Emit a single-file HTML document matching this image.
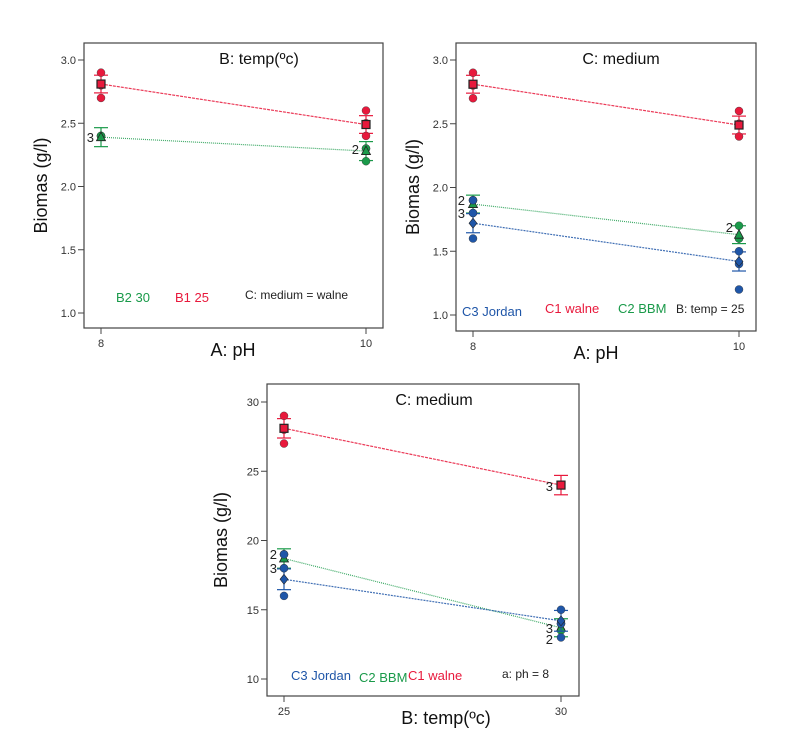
<!DOCTYPE html>
<html><head><meta charset="utf-8"><style>
html,body{margin:0;padding:0;background:#fff;}
svg{display:block;font-family:"Liberation Sans",Arial,sans-serif;}
</style></head><body>
<svg id="fig" width="787" height="744" viewBox="0 0 787 744" xmlns="http://www.w3.org/2000/svg"></svg>
<script>
// ---------- Data ----------
// Chart 1: B temp interaction, medium = walne
const c1XLabels = ["8","10"];
const c1YTicks = [1.0,1.5,2.0,2.5,3.0];
const c1B1Mean = [2.81,2.49];
const c1B1Err = [0.07,0.07];
const c1B1Pts = [[2.9,2.8,2.7],[2.6,2.5,2.4]];
const c1B2Mean = [2.39,2.28];
const c1B2Err = [0.075,0.075];
const c1B2Pts = [[2.4,2.4,2.4],[2.3,2.2,2.3]];
// Chart 2: medium interaction, temp = 25
const c2XLabels = ["8","10"];
const c2YTicks = [1.0,1.5,2.0,2.5,3.0];
const c2C1Mean = [2.81,2.49];
const c2C1Err = [0.07,0.07];
const c2C1Pts = [[2.9,2.8,2.7],[2.6,2.5,2.4]];
const c2C2Mean = [1.87,1.63];
const c2C2Err = [0.07,0.07];
const c2C2Pts = [[1.9,1.8,1.9],[1.7,1.6,1.6]];
const c2C3Mean = [1.72,1.42];
const c2C3Err = [0.075,0.075];
const c2C3Pts = [[1.9,1.8,1.6],[1.5,1.4,1.2]];
// Chart 3: medium interaction vs temp, ph = 8
const c3XLabels = ["25","30"];
const c3YTicks = [10,15,20,25,30];
const c3C1Mean = [28.1,24.0];
const c3C1Err = [0.7,0.7];
const c3C1Pts = [[29,28,27],[24,24,24]];
const c3C2Mean = [18.7,13.7];
const c3C2Err = [0.7,0.65];
const c3C2Pts = [[19,18,19],[14,13.5,14]];
const c3C3Mean = [17.2,14.2];
const c3C3Err = [0.75,0.75];
const c3C3Pts = [[19,18,16],[15,14,13]];

const RED="#e8193c", GREEN="#1a9a4a", BLUE="#1f56a8";
const NS="http://www.w3.org/2000/svg";
const svg=document.getElementById('fig');
function mk(tag,attrs,parent,text){
  const e=document.createElementNS(NS,tag);
  for(const k in attrs)e.setAttribute(k,attrs[k]);
  if(text!==undefined)e.textContent=text;
  (parent||svg).appendChild(e);return e;
}

function drawChart(cfg){
  const g=mk('g',{});
  
  
  const yS=v=>cfg.yTop+(cfg.yMax-v)*(cfg.yBot-cfg.yTop)/(cfg.yMax-cfg.yMin);
  const xS=i=>cfg.xPos[0]+i*(cfg.xPos[1]-cfg.xPos[0]);
  const box=mk('rect',{x:cfg.bx,y:cfg.by,width:cfg.bw,height:cfg.bh,fill:'none',stroke:'#444','stroke-width':1.2},g);
  
  cfg.yTicks.forEach(t=>{
    const y=yS(t);
    mk('line',{x1:cfg.bx-6,x2:cfg.bx,y1:y,y2:y,stroke:'#444'},g);
    const tl=mk('text',{x:cfg.bx-8,y:y+4,'font-size':11,fill:'#333','text-anchor':'end'},g,cfg.dec?t.toFixed(1):String(t));
    
  });
  cfg.xLabels.forEach((l,i)=>{
    const x=xS(i);
    mk('line',{x1:x,x2:x,y1:cfg.by+cfg.bh,y2:cfg.by+cfg.bh+6,stroke:'#444'},g);
    const tl=mk('text',{x:x,y:cfg.by+cfg.bh+19,'font-size':11,fill:'#333','text-anchor':'middle'},g,l);
    
  });
  const xt=mk('text',{x:cfg.xTitleX,y:cfg.by+cfg.bh+28,'font-size':18,fill:'#111','text-anchor':'middle'},g,cfg.xTitle);
  
  const ycx=cfg.yTitleX, ycy=cfg.by+cfg.bh/2;
  const yt=mk('text',{x:ycx,y:ycy,'font-size':18,fill:'#111','text-anchor':'middle',transform:`rotate(-90 ${ycx} ${ycy})`},g,'Biomas (g/l)');
  
  const tt=mk('text',{x:cfg.titleX,y:cfg.by+21,'font-size':16,fill:'#111','text-anchor':'middle'},g,cfg.title);
  

  cfg.series.forEach(s=>{
    const sg=mk('g',{},g);
    
    
    const ln=mk('line',{x1:xS(0),y1:yS(s.mean[0]),x2:xS(1),y2:yS(s.mean[1]),stroke:s.color,'stroke-width':1.2,'stroke-dasharray':s.dash,opacity:0.85},sg);
    
    s.mean.forEach((m,i)=>{
      const x=xS(i);
      const hi=yS(m+s.err[i]), lo=yS(m-s.err[i]);
      mk('line',{x1:x,x2:x,y1:hi,y2:lo,stroke:s.color,'stroke-width':1.2},sg);
      mk('line',{x1:x-7,x2:x+7,y1:hi,y2:hi,stroke:s.color,'stroke-width':1.2},sg);
      mk('line',{x1:x-7,x2:x+7,y1:lo,y2:lo,stroke:s.color,'stroke-width':1.2},sg);
      s.pts[i].forEach(p=>{
        const c=mk('circle',{cx:x,cy:yS(p),r:4,fill:s.color,stroke:'#333','stroke-width':0.4},sg);
        
      });
      const y=yS(m);let mm;
      if(s.shape==='square')mm=mk('rect',{x:x-4,y:y-4,width:8,height:8,fill:s.color,stroke:'#222','stroke-width':1.2},sg);
      else if(s.shape==='tri')mm=mk('polygon',{points:`${x},${y-5} ${x-4.5},${y+3.5} ${x+4.5},${y+3.5}`,fill:s.color,stroke:'#222','stroke-width':0.8},sg);
      else mm=mk('polygon',{points:`${x},${y-5} ${x+4},${y} ${x},${y+5} ${x-4},${y}`,fill:s.color,stroke:'#222','stroke-width':0.6},sg);
      
    });
  });
  cfg.notes.forEach(n=>{
    const t=mk('text',{x:n[0],y:n[1],'font-size':n[4]||13,fill:n[3],'text-anchor':n[5]||'start'},g,n[2]);
    
  });
}

drawChart({name:'chart-ph-by-temp',bx:84,by:43,bw:299,bh:285,yTop:60,yBot:313,yMin:1,yMax:3,dec:true,
  xPos:[101,366],xLabels:c1XLabels,yTicks:c1YTicks,xTitle:'A: pH',xTitleX:233,yTitleX:47,titleX:259,title:'B: temp(\u00bac)',
  series:[
    {key:'b1-25',mean:c1B1Mean,err:c1B1Err,pts:c1B1Pts,color:RED,shape:'square',dash:'3 1'},
    {key:'b2-30',mean:c1B2Mean,err:c1B2Err,pts:c1B2Pts,color:GREEN,shape:'tri',dash:'1 1'}],
  notes:[[116,302,'B2 30',GREEN,13,'start','legend-b2-30'],[175,302,'B1 25',RED,13,'start','legend-b1-25'],
    [245,299,'C: medium = walne','#222',12,'start','condition-note'],
    [94,142,'3','#222',13,'end','count-label'],[359,154,'2','#222',13,'end','count-label']]});

drawChart({name:'chart-ph-by-medium',bx:456,by:43,bw:300,bh:288,yTop:60,yBot:315,yMin:1,yMax:3,dec:true,
  xPos:[473,739],xLabels:c2XLabels,yTicks:c2YTicks,xTitle:'A: pH',xTitleX:596,yTitleX:419,titleX:621,title:'C: medium',
  series:[
    {key:'c1-walne',mean:c2C1Mean,err:c2C1Err,pts:c2C1Pts,color:RED,shape:'square',dash:'3 1'},
    {key:'c2-bbm',mean:c2C2Mean,err:c2C2Err,pts:c2C2Pts,color:GREEN,shape:'tri',dash:'1 1'},
    {key:'c3-jordan',mean:c2C3Mean,err:c2C3Err,pts:c2C3Pts,color:BLUE,shape:'diamond',dash:'2 1'}],
  notes:[[462,316,'C3 Jordan',BLUE,13,'start','legend-c3-jordan'],[545,313,'C1 walne',RED,13,'start','legend-c1-walne'],
    [618,313,'C2 BBM',GREEN,13,'start','legend-c2-bbm'],[676,313,'B: temp = 25','#222',12,'start','condition-note'],
    [465,205,'2','#222',13,'end','count-label'],[465,218,'3','#222',13,'end','count-label'],[733,232,'2','#222',13,'end','count-label']]});

drawChart({name:'chart-temp-by-medium',bx:267,by:384,bw:312,bh:312,yTop:402,yBot:679,yMin:10,yMax:30,dec:false,
  xPos:[284,561],xLabels:c3XLabels,yTicks:c3YTicks,xTitle:'B: temp(\u00bac)',xTitleX:446,yTitleX:227,titleX:434,title:'C: medium',
  series:[
    {key:'c1-walne',mean:c3C1Mean,err:c3C1Err,pts:c3C1Pts,color:RED,shape:'square',dash:'3 1'},
    {key:'c2-bbm',mean:c3C2Mean,err:c3C2Err,pts:c3C2Pts,color:GREEN,shape:'tri',dash:'1 1'},
    {key:'c3-jordan',mean:c3C3Mean,err:c3C3Err,pts:c3C3Pts,color:BLUE,shape:'diamond',dash:'2 1'}],
  notes:[[291,680,'C3 Jordan',BLUE,13,'start','legend-c3-jordan'],[359,682,'C2 BBM',GREEN,13,'start','legend-c2-bbm'],
    [408,680,'C1 walne',RED,13,'start','legend-c1-walne'],[502,678,'a: ph = 8','#222',12,'start','condition-note'],
    [277,559,'2','#222',13,'end','count-label'],[277,573,'3','#222',13,'end','count-label'],
    [553,491,'3','#222',13,'end','count-label'],[553,633,'3','#222',13,'end','count-label'],[553,644,'2','#222',13,'end','count-label']]});
</script>
</body></html>
